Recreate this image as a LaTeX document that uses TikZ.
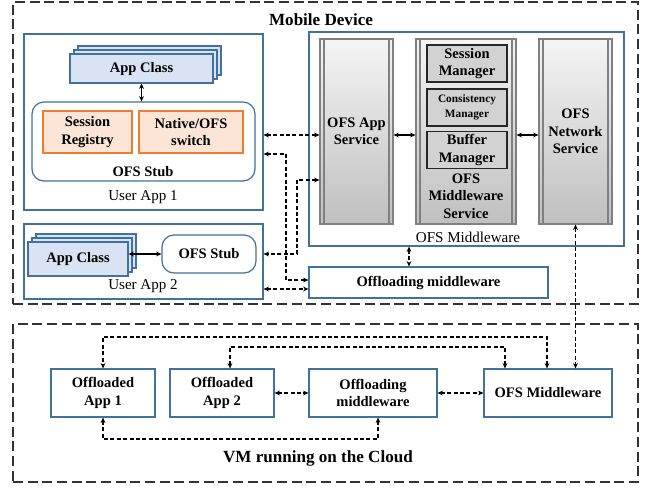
\documentclass[tikz,border=0pt]{standalone}
\usepackage{fontspec}
\setmainfont{Liberation Serif}
\usepackage{xcolor}
\definecolor{boxline}{RGB}{65,113,156}
\definecolor{appfill}{RGB}{218,227,243}
\definecolor{stubline}{RGB}{237,125,49}
\definecolor{stubfill}{RGB}{251,229,214}
\definecolor{colline}{RGB}{128,128,128}
\usepackage{tikz}
\usetikzlibrary{arrows.meta,shadows,calc}
\newcommand{\dlink}[2]{\draw[dconn] (#1) -- (#2)}

\begin{document}
\begin{tikzpicture}[x=0.75pt,y=-0.75pt,
      >={Stealth[length=4pt,width=3.6pt]},
      every node/.style={font=\fontsize{10.9}{13}\selectfont\bfseries,align=center,inner sep=0pt},
      blockbox/.style={rectangle,draw=boxline,line width=0.9pt,fill=white},
      stubbox/.style={blockbox,rounded corners=9pt},
      classbox/.style={rectangle,draw=boxline,line width=0.8pt,fill=appfill,double copy shadow={shadow xshift=3pt,shadow yshift=3pt}},
      partbox/.style={rectangle,draw=stubline,line width=0.9pt,fill=stubfill,minimum width=#1,minimum height=31.5pt},
      column/.style={rectangle,draw=colline,line width=0.8pt,top color=gray!8,bottom color=gray!50,minimum width=#1,minimum height=138.75pt,
        path picture={\draw[colline,line width=0.8pt]
          ([xshift=3pt]path picture bounding box.north west) -- ([xshift=3pt]path picture bounding box.south west)
          ([xshift=-3pt]path picture bounding box.north east) -- ([xshift=-3pt]path picture bounding box.south east);}},
      mgrbox/.style={rectangle,draw=black!85,line width=1.1pt,fill=gray!35,minimum width=60pt,minimum height=28pt},
      cloudbox/.style={blockbox,minimum width=#1,minimum height=36pt},
      area/.style={draw=black!80,line width=1.1pt,dash pattern=on 7.5pt off 3.5pt,minimum width=468.75pt},
      conn/.style={<->,line width=0.8pt},
      dconn/.style={<->,line width=0.8pt,dash pattern=on 3pt off 1.8pt},
      caption/.style={font=\fontsize{11.3}{13}\selectfont},
      title/.style={font=\fontsize{12.8}{15}\selectfont\bfseries}]
      \useasboundingbox (0,0) rectangle (647,487);

      % Define nodes
      \node[area,minimum height=226.5pt] (mobile) at (325.5,153) {};
      \node[title] (mobtitle) at (321,20) {Mobile Device};

      \node[blockbox,minimum width=179.25pt,minimum height=132pt] (ua1) at (143.5,122) {};
      \node[classbox,minimum width=107.25pt,minimum height=21.75pt] (ac1) at (141.5,68.5) {App Class};
      \node[stubbox,minimum width=167.25pt,minimum height=59.25pt] (stub1) at (143.5,141.5) {};
      \node[partbox=66.75pt] (sreg) at (87.5,132) {Session\\Registry};
      \node[partbox=78pt] (nswitch) at (191,132) {Native/OFS\\switch};
      \node (stub1lbl) at (143,172) {OFS Stub};
      \node[caption] (ua1lbl) at (143,197) {User App 1};

      \node[blockbox,minimum width=179.25pt,minimum height=56.25pt] (ua2) at (143.5,261.5) {};
      \node[classbox,minimum width=75pt,minimum height=25.5pt] (ac2) at (78,259) {App Class};
      \node[stubbox,minimum width=70.5pt,minimum height=28.5pt] (stub2) at (209,254) {OFS Stub};
      \node[caption] (ua2lbl) at (143,286) {User App 2};

      \node[blockbox,minimum width=236.25pt,minimum height=160.5pt] (ofsmw) at (466.5,139) {};
      \node[column=54.75pt] (appsvc) at (356.5,131.5) {OFS App\\Service};
      \node[column=75pt] (mwsvc) at (466,131.5) {};
      \node[mgrbox] (sessmgr) at (467,63.5) {Session\\Manager};
      \node[mgrbox,font=\fontsize{8.5}{11}\selectfont\bfseries] (consmgr) at (467,107.5) {Consistency\\Manager};
      \node[mgrbox] (bufmgr) at (467,150) {Buffer\\Manager};
      \node (mwsvclbl) at (466,196) {OFS\\Middleware\\Service};
      \node[column=54.75pt] (netsvc) at (575.5,131.5) {OFS\\Network\\Service};
      \node[caption] (ofsmwlbl) at (468,237) {OFS Middleware};
      \node[blockbox,minimum width=179.25pt,minimum height=23.25pt] (offmw) at (428.5,282.5) {Offloading middleware};

      \node[area,minimum height=118.5pt] (cloud) at (325.5,403) {};
      \node[cloudbox=78pt] (off1) at (103,393) {Offloaded\\App 1};
      \node[cloudbox=78pt] (off2) at (222,393) {Offloaded\\App 2};
      \node[cloudbox=96pt] (coffmw) at (373,393) {Offloading\\middleware};
      \node[cloudbox=96pt] (cofs) at (548,393) {OFS Middleware};
      \node[title] (cloudtitle) at (318,458) {VM running on the Cloud};

      % Draw paths
      \draw[conn] (ac1.south) -- (ac1.south |- stub1.north);
      \draw[conn] (ac2.east |- stub2.west) -- (stub2.west);
      \draw[conn] (appsvc.east |- 0,135) -- (mwsvc.west |- 0,135);
      \draw[conn] (mwsvc.east |- 0,135) -- (netsvc.west |- 0,135);
      \dlink{ua1.east |- 0,135}{appsvc.west |- 0,135};
      \draw[dconn] (appsvc.west |- 0,180) -- (297,180) -- (297,254) -- (ua2.east |- 0,254);
      \draw[dconn] (ua1.east |- 0,154) -- (286,154) -- (286,280) -- (offmw.west |- 0,280);
      \dlink{ua2.east |- 0,289}{offmw.west |- 0,289};
      \dlink{ofsmw.south -| 409,0}{offmw.north -| 409,0};
      \dlink{netsvc.south}{netsvc.south |- cofs.north};
      \dlink{off2}{coffmw};
      \dlink{coffmw}{cofs};
      \draw[dconn] (cofs.north -| 547,0) -- (547,337) -| (off1.north);
      \draw[dconn] (cofs.north -| 505,0) -- (505,347) -| (off2.north -| 230,0);
      \draw[dconn] (off1.south) |- (378,439) -- (coffmw.south -| 378,0);

\end{tikzpicture}
\end{document}
